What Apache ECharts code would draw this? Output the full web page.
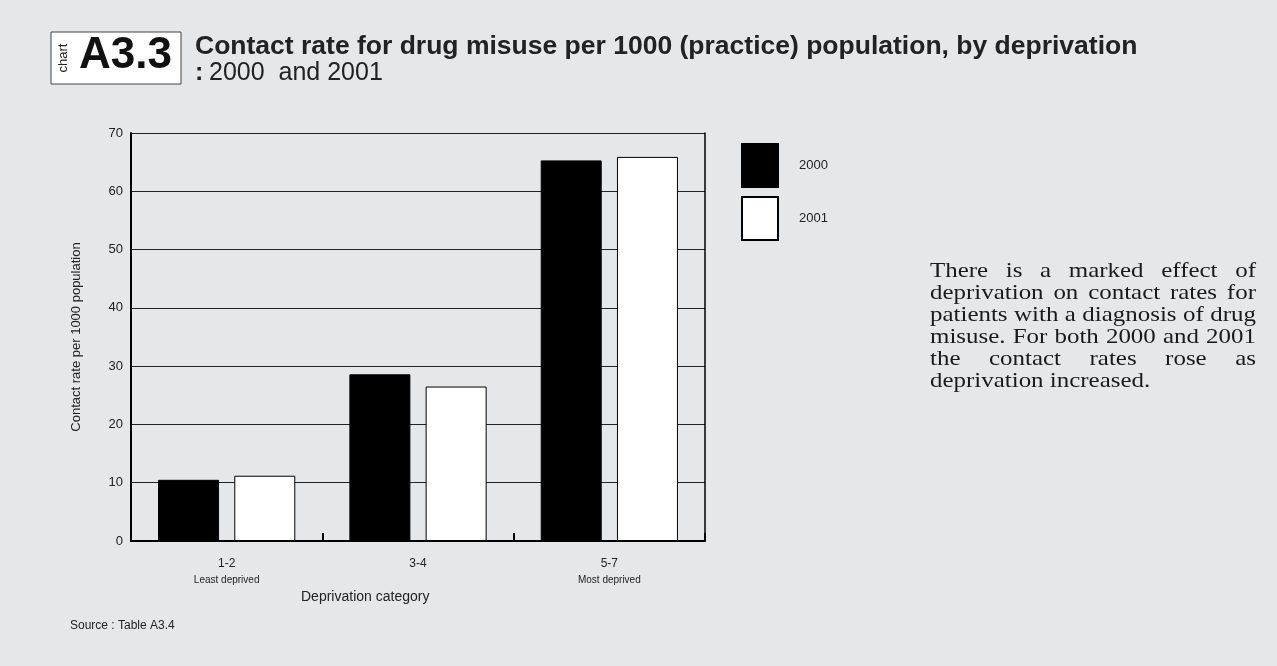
<!DOCTYPE html>
<html><head><meta charset="utf-8">
<script src="https://cdn.jsdelivr.net/npm/echarts@6/dist/echarts.min.js"></script>
<style>
html,body{margin:0;padding:0;background:#e6e7e9;}
#c{width:1277px;height:666px;position:absolute;left:0;top:0;}
#note{position:absolute;left:930px;top:259px;width:281px;transform:scaleX(1.16);transform-origin:0 0;font-family:"Liberation Serif","DejaVu Serif",serif;font-size:21.5px;line-height:22px;color:#1a1a1a;}
#note div{text-align:justify;text-align-last:justify;white-space:nowrap;}
#note div.last{text-align-last:left;}
</style></head>
<body>
<div id="c"></div>
<div id="note">
<div>There is a marked effect of</div>
<div>deprivation on contact rates for</div>
<div>patients with a diagnosis of drug</div>
<div>misuse. For both 2000 and 2001</div>
<div>the contact rates rose as</div>
<div class="last">deprivation increased.</div>
</div>
<script>
const categories = ['1-2', '3-4', '5-7'];
const subLabels = ['Least deprived', '', 'Most deprived'];
const series2000 = [10.5, 28.6, 65.3];
const series2001 = [11.2, 26.5, 65.9];
const yTicks = [0, 10, 20, 30, 40, 50, 60, 70];

const chart = echarts.init(document.getElementById('c'));
const font = 'Liberation Sans, Arial, sans-serif';
chart.setOption({
  backgroundColor: '#e6e7e9',
  animation: false,
  textStyle: {fontFamily: font},
  graphic: [
    {type: 'rect', shape: {x: 51, y: 32, width: 130, height: 52}, style: {fill: '#fff', stroke: '#444', lineWidth: 1}},
    {type: 'text', x: 63, y: 58, rotation: Math.PI / 2, style: {text: 'chart', fill: '#222', font: '13px ' + font, textAlign: 'center', textVerticalAlign: 'middle'}},
    {type: 'text', x: 79, y: 56, style: {text: 'A3.3', fill: '#111', font: 'bold 44px ' + font, textVerticalAlign: 'middle'}},
    {type: 'text', x: 195, y: 33, style: {text: 'Contact rate for drug misuse per 1000 (practice) population, by deprivation', fill: '#222', font: 'bold 26.5px ' + font}},
    {type: 'text', x: 195, y: 61, style: {text: ': ', fill: '#222', font: 'bold 25px ' + font}},
    {type: 'text', x: 209, y: 61, style: {text: '2000  and 2001', fill: '#222', font: '25px ' + font}},
    {type: 'text', x: 70, y: 620, style: {text: 'Source : Table A3.4', fill: '#222', font: '12px ' + font}},
    {type: 'text', x: 301, y: 590, style: {text: 'Deprivation category', fill: '#222', font: '14px ' + font}}
  ],
  legend: {
    orient: 'vertical', left: 736, top: 138, itemWidth: 36, itemHeight: 43, itemGap: 8,
    icon: 'rect',
    textStyle: {fontSize: 13, color: '#222', padding: [0, 0, 0, 16]},
    data: ['2000', '2001']
  },
  grid: {left: 131, right: 572, top: 133, bottom: 125},
  xAxis: {
    type: 'category', data: categories,
    axisLine: {lineStyle: {color: '#000', width: 2}},
    axisTick: {show: true, inside: true, length: 8, lineStyle: {color: '#000', width: 2}},
    axisLabel: {
      margin: 14, color: '#222', fontSize: 12, lineHeight: 17,
      formatter: (v, i) => subLabels[i] ? v + '\n{s|' + subLabels[i] + '}' : v,
      rich: {s: {fontSize: 10, color: '#222'}}
    }
  },
  yAxis: [{
    type: 'value', min: 0, max: 70, interval: 10,
    name: 'Contact rate per 1000 population', nameLocation: 'middle', nameGap: 48, nameRotate: 90,
    nameTextStyle: {fontSize: 13, color: '#222'},
    axisLine: {show: true, lineStyle: {color: '#000', width: 2}},
    axisTick: {show: false},
    axisLabel: {color: '#222', fontSize: 13, margin: 8, formatter: v => yTicks.includes(v) ? String(v) : ''},
    splitLine: {show: true, lineStyle: {color: '#222', width: 1}}
  }, {
    type: 'value', min: 0, max: 70, interval: 10, position: 'right',
    axisLine: {show: true, lineStyle: {color: '#000', width: 1.5}},
    axisTick: {show: false}, axisLabel: {show: false}, splitLine: {show: false}
  }],
  series: [
    {name: '2000', type: 'bar', data: series2000, barWidth: 61, barGap: '25%',
     itemStyle: {color: '#000', borderColor: '#000', borderWidth: 1}},
    {name: '2001', type: 'bar', data: series2001, barWidth: 61,
     itemStyle: {color: '#fff', borderColor: '#000', borderWidth: 1}}
  ]
});
</script>
</body></html>
